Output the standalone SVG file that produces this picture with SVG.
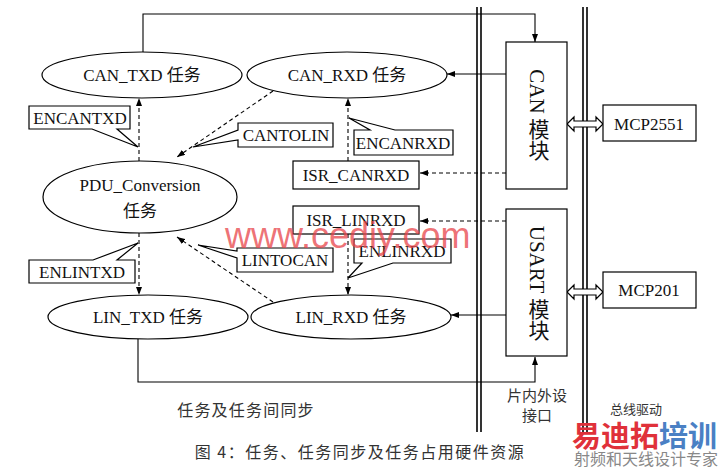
<svg xmlns="http://www.w3.org/2000/svg" width="728" height="470" viewBox="0 0 728 470">
<style>
.t{font-family:"Liberation Serif","Noto Sans CJK SC",serif;font-size:17px;fill:#111;text-anchor:middle}
.cj{font-family:"Noto Sans CJK SC",sans-serif;fill:#333;text-anchor:middle}
.sh{fill:#fff;stroke:#000;stroke-width:1.2}
.ln{fill:none;stroke:#000;stroke-width:1.1}
.ds{fill:none;stroke:#000;stroke-width:1.1;stroke-dasharray:4,3}
.bar{stroke:#000;stroke-width:1.6}
.vt{font-family:"Liberation Serif","Noto Sans CJK SC",serif;font-size:21px;fill:#111;text-anchor:middle;writing-mode:vertical-rl}
</style>
<defs>
<marker id="ah" markerWidth="8" markerHeight="6" refX="8" refY="3" orient="auto" markerUnits="userSpaceOnUse">
<path d="M0,0 L8,3 L0,6 z" fill="#000"/>
</marker>
</defs>
<rect width="728" height="470" fill="#fff"/>
<g id="bars">
<line class="bar" x1="477" y1="7" x2="477" y2="432"/>
<line class="bar" x1="481" y1="7" x2="481" y2="432"/>
<line class="bar" x1="583" y1="7" x2="583" y2="432"/>
<line class="bar" x1="587" y1="7" x2="587" y2="432"/>
</g>
<g id="connectors">
<path class="ln" d="M143,52 V14 H535 V42" marker-end="url(#ah)"/>
<path class="ln" d="M506,74 H447" marker-end="url(#ah)"/>
<path class="ds" d="M506,173 H420" marker-end="url(#ah)"/>
<path class="ds" d="M506,221 H420" marker-end="url(#ah)"/>
<path class="ln" d="M506,315 H451" marker-end="url(#ah)"/>
<path class="ln" d="M138,339 V382 H535 V357" marker-end="url(#ah)"/>
<path class="ds" d="M139,161 V98" marker-end="url(#ah)"/>
<path class="ds" d="M273,91 L177,157" marker-end="url(#ah)"/>
<path class="ds" d="M348,161 V98" marker-end="url(#ah)"/>
<path class="ds" d="M348,234 V295" marker-end="url(#ah)"/>
<path class="ds" d="M273,302 L177,237" marker-end="url(#ah)"/>
<path class="ds" d="M139,233 V295" marker-end="url(#ah)"/>
<polygon class="sh" points="567,124 574,117 574,121 596,121 596,117 603,124 596,131 596,127 574,127 574,131"/>
<polygon class="sh" points="567,292 574,285 574,289 596,289 596,285 603,292 596,299 596,295 574,295 574,299"/>
</g>
<g id="can_txd"><ellipse class="sh" cx="142" cy="75" rx="100" ry="23"/><text class="t" x="142" y="81">CAN_TXD 任务</text></g>
<g id="can_rxd"><ellipse class="sh" cx="347" cy="75" rx="100" ry="23"/><text class="t" x="347" y="81">CAN_RXD 任务</text></g>
<g id="pdu"><ellipse class="sh" cx="140" cy="197" rx="97" ry="36"/><text class="t" x="140" y="191">PDU_Conversion</text><text class="t" x="140" y="217">任务</text></g>
<g id="lin_txd"><ellipse class="sh" cx="148" cy="317" rx="100" ry="22"/><text class="t" x="148" y="323">LIN_TXD 任务</text></g>
<g id="lin_rxd"><ellipse class="sh" cx="351" cy="317" rx="100" ry="22"/><text class="t" x="351" y="323">LIN_RXD 任务</text></g>
<g id="isr_canrxd"><rect class="sh" x="293" y="161" width="126" height="28"/><text class="t" x="356" y="181">ISR_CANRXD</text></g>
<g id="isr_linrxd"><rect class="sh" x="293" y="206" width="126" height="28"/><text class="t" x="356" y="226">ISR_LINRXD</text></g>
<g id="encantxd"><path class="sh" d="M29,106 H130 V129 H117 L138,147 L92,129 H29 Z"/><text class="t" x="80" y="124">ENCANTXD</text></g>
<g id="cantolin"><path class="sh" d="M238,123 H333 V147 H238 V140 L193,147 L238,130 Z"/><text class="t" x="286" y="141">CANTOLIN</text></g>
<g id="encanrxd"><path class="sh" d="M354,130 H370 L349,118 L395,130 H453 V155 H354 Z"/><text class="t" x="403" y="149">ENCANRXD</text></g>
<g id="lintocan"><path class="sh" d="M237,248 H333 V272 H237 V258 L198,245 L237,251 Z"/><text class="t" x="285" y="266">LINTOCAN</text></g>
<g id="enlinrxd"><path class="sh" d="M354,239 H451 V263 H393 L348,278 L362,263 H354 Z"/><text class="t" x="402" y="257">ENLINRXD</text></g>
<g id="enlintxd"><path class="sh" d="M29,260 H93 L138,243 L117,260 H135 V283 H29 Z"/><text class="t" x="82" y="278">ENLINTXD</text></g>
<g id="can_mod"><rect class="sh" x="506" y="42" width="61" height="147"/><text class="vt" x="537" y="115">CAN 模块</text></g>
<g id="usart_mod"><rect class="sh" x="506" y="209" width="61" height="147"/><text class="vt" x="537" y="283">USART 模块</text></g>
<g id="mcp2551"><rect class="sh" x="603" y="105" width="93" height="36"/><text class="t" x="649" y="130">MCP2551</text></g>
<g id="mcp201"><rect class="sh" x="603" y="272" width="93" height="36"/><text class="t" x="649" y="296">MCP201</text></g>
<g id="labels">
<text class="cj" x="246" y="416" font-size="16" letter-spacing="1.2">任务及任务间同步</text>
<text class="cj" x="537" y="401" font-size="15">片内外设</text>
<text class="cj" x="537" y="421" font-size="15">接口</text>
<text class="cj" x="636" y="414" font-size="13">总线驱动</text>
<text class="cj" x="360" y="458" font-size="16" letter-spacing="1.5">图 4：任务、任务同步及任务占用硬件资源</text>
</g>
<g id="watermark">
<text x="225" y="248" font-family="Liberation Sans,Arial,sans-serif" font-size="36" fill="#e8454a" fill-opacity="0.75">www.cediy.com</text>
<text x="572" y="447" font-family="Noto Sans CJK SC,sans-serif" font-size="29" font-weight="bold"><tspan fill="#e0313a">易迪拓</tspan><tspan fill="#4a80c4">培训</tspan></text>
<text x="646" y="465" font-family="Noto Sans CJK SC,sans-serif" font-size="16" fill="#888" text-anchor="middle">射频和天线设计专家</text>
</g>
</svg>
